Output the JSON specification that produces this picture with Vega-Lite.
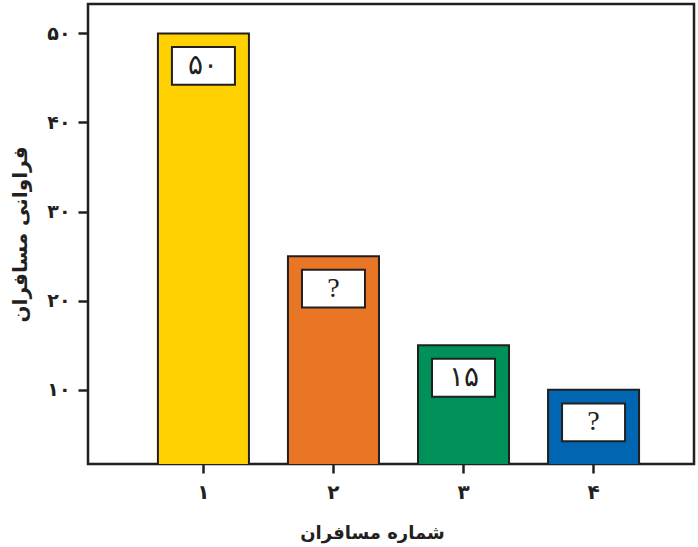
{
  "$schema": "https://vega.github.io/schema/vega-lite/v6.json",
  "width": 606,
  "height": 460,
  "autosize": {"type": "none"},
  "padding": {"left": 88, "top": 4, "right": 4, "bottom": 83},
  "background": "white",
  "config": {
    "view": {"stroke": "#231F20", "strokeWidth": 2.5},
    "axis": {"grid": false, "domain": false}
  },
  "data": {
    "values": [
      {"passenger": "۱", "count": 50, "label": "۵۰"},
      {"passenger": "۲", "count": 25, "label": "?"},
      {"passenger": "۳", "count": 15, "label": "۱۵"},
      {"passenger": "۴", "count": 10, "label": "?"}
    ]
  },
  "encoding": {
    "x": {
      "field": "passenger",
      "type": "ordinal",
      "sort": null,
      "scale": {"paddingInner": 0.3, "paddingOuter": 0.48, "align": 0.56},
      "axis": {
        "title": "شماره مسافران",
        "titleFont": "DejaVu Sans",
        "titleFontSize": 18,
        "titleFontWeight": "bold",
        "titleColor": "#231F20",
        "titlePadding": 22,
        "titleX": 284,
        "labelAngle": 0,
        "labelFont": "DejaVu Sans",
        "labelFontSize": 20,
        "labelFontWeight": "bold",
        "labelColor": "#231F20",
        "labelPadding": 9,
        "tickColor": "#231F20",
        "tickWidth": 2.5,
        "tickSize": 9
      }
    },
    "y": {
      "field": "count",
      "type": "quantitative",
      "scale": {"domain": [1.67, 53.3], "zero": false, "nice": false},
      "axis": {
        "title": "فراوانی مسافران",
        "titleFont": "DejaVu Sans",
        "titleFontSize": 20,
        "titleFontWeight": "bold",
        "titleColor": "#231F20",
        "titlePadding": 16,
        "values": [10, 20, 30, 40, 50],
        "labelExpr": "replace(replace(replace(replace(replace(replace(datum.label,'0','۰'),'1','۱'),'2','۲'),'3','۳'),'4','۴'),'5','۵')",
        "labelFont": "DejaVu Sans",
        "labelFontSize": 19,
        "labelFontWeight": "bold",
        "labelColor": "#231F20",
        "labelPadding": 8,
        "tickColor": "#231F20",
        "tickWidth": 2.5,
        "tickSize": 10
      }
    }
  },
  "layer": [
    {
      "mark": {"type": "bar", "stroke": "#231F20", "strokeWidth": 2, "clip": true},
      "encoding": {
        "color": {
          "field": "passenger",
          "type": "nominal",
          "sort": null,
          "scale": {"range": ["#FFD100", "#E87624", "#00915A", "#0066B2"]},
          "legend": null
        }
      }
    },
    {
      "mark": {
        "type": "point",
        "shape": "M-1,-0.6H1V0.6H-1Z",
        "size": 3969,
        "filled": true,
        "fill": "white",
        "stroke": "#231F20",
        "strokeWidth": 2,
        "opacity": 1,
        "yOffset": 32.5
      },
      "encoding": {}
    },
    {
      "mark": {
        "type": "text",
        "font": "Liberation Serif",
        "fontSize": 28,
        "color": "#231F20",
        "baseline": "middle",
        "align": "center",
        "yOffset": 32.5
      },
      "encoding": {"text": {"field": "label"}}
    }
  ]
}
